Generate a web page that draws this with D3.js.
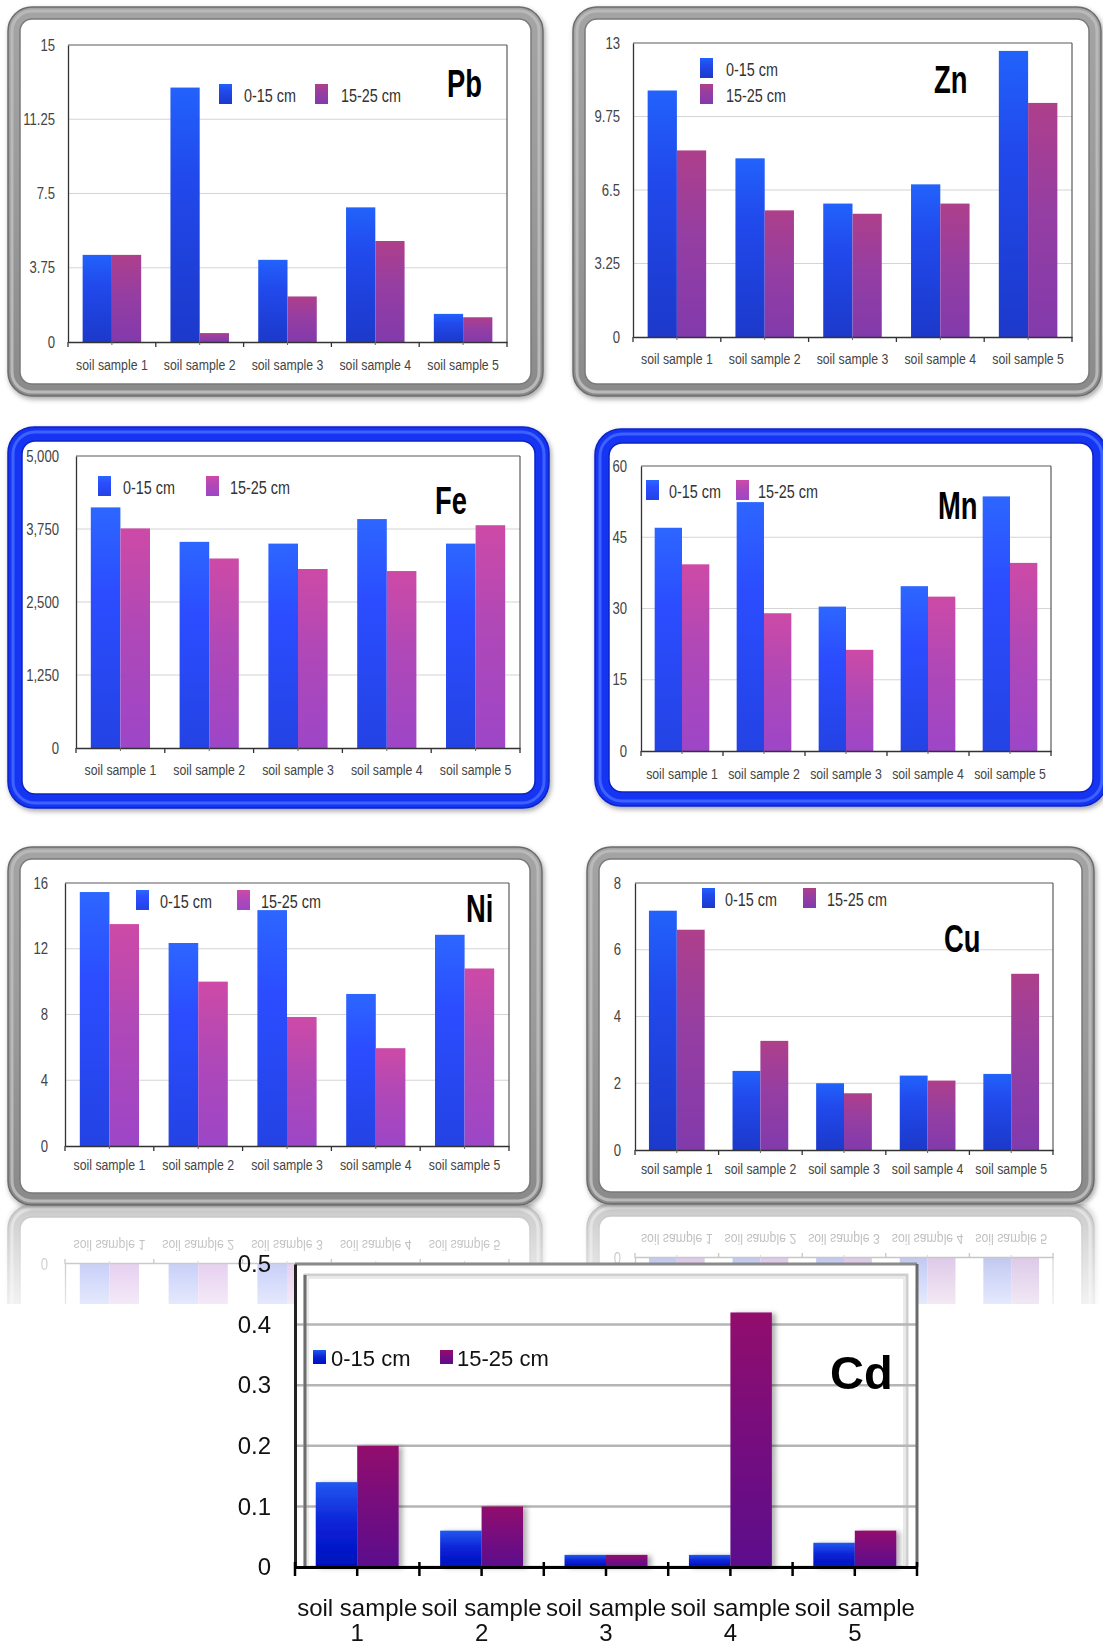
<!DOCTYPE html>
<html><head><meta charset="utf-8">
<script src="https://cdn.jsdelivr.net/npm/d3@7"></script>
<style>body{margin:0;background:#fff}svg{display:block}</style>
</head><body>
<svg id="c" width="1103" height="1648"></svg>
<script>
const categories = ["soil sample 1","soil sample 2","soil sample 3","soil sample 4","soil sample 5"];
const seriesNames = ["0-15 cm","15-25 cm"];

const pb0_15 = [4.4, 12.85, 4.15, 6.8, 1.42];
const pb15_25 = [4.4, 0.45, 2.3, 5.1, 1.25];
const pbTicks = [0, 3.75, 7.5, 11.25, 15];

const zn0_15 = [10.9, 7.9, 5.9, 6.75, 12.65];
const zn15_25 = [8.25, 5.6, 5.45, 5.9, 10.35];
const znTicks = [0, 3.25, 6.5, 9.75, 13];

const fe0_15 = [4120, 3530, 3500, 3920, 3500];
const fe15_25 = [3760, 3245, 3065, 3030, 3815];
const feTicks = [0, 1250, 2500, 3750, 5000];

const mn0_15 = [47, 52.4, 30.4, 34.7, 53.6];
const mn15_25 = [39.3, 29, 21.3, 32.5, 39.6];
const mnTicks = [0, 15, 30, 45, 60];

const ni0_15 = [15.45, 12.35, 14.35, 9.25, 12.85];
const ni15_25 = [13.5, 10.0, 7.85, 5.95, 10.8];
const niTicks = [0, 4, 8, 12, 16];

const cu0_15 = [7.17, 2.37, 2.0, 2.23, 2.28];
const cu15_25 = [6.6, 3.27, 1.7, 2.08, 5.28];
const cuTicks = [0, 2, 4, 6, 8];

const cd0_15 = [0.14, 0.06, 0.02, 0.02, 0.04];
const cd15_25 = [0.2, 0.1, 0.02, 0.42, 0.06];
const cdTicks = [0, 0.1, 0.2, 0.3, 0.4, 0.5];

const FONT = "'Liberation Sans', Arial, Helvetica, sans-serif";
const NARROW = 0.82;

const svg = d3.select("#c");
const defs = svg.append("defs");

function vgrad(id, stops) {
  const g = defs.append("linearGradient").attr("id", id).attr("x1",0).attr("y1",0).attr("x2",0).attr("y2",1);
  stops.forEach(s => g.append("stop").attr("offset", s[0]).attr("stop-color", s[1]));
}
vgrad("blueA", [[0,"#2262fb"],[0.35,"#2149ec"],[1,"#1c39ca"]]);
vgrad("magA", [[0,"#ae3f8b"],[0.45,"#963ea2"],[1,"#823aac"]]);
vgrad("blueB", [[0,"#2d66ff"],[0.35,"#2b4dff"],[1,"#2343e4"]]);
vgrad("magB", [[0,"#cd4aa6"],[0.45,"#b048b7"],[1,"#9d46c7"]]);
vgrad("blueCd", [[0,"#2258ef"],[0.5,"#0a22d6"],[1,"#0010bd"]]);
vgrad("magCd", [[0,"#920c6c"],[0.5,"#760c7f"],[1,"#5c0e8c"]]);
vgrad("grayFrame", [[0,"#a4a4a4"],[0.5,"#9a9a9a"],[1,"#8a8a8a"]]);

const fs = defs.append("filter").attr("id","frameShadow").attr("x","-5%").attr("y","-5%").attr("width","112%").attr("height","115%");
fs.append("feDropShadow").attr("dx",1.5).attr("dy",2.5).attr("stdDeviation",2.5).attr("flood-color","#000").attr("flood-opacity",0.35);
const bs = defs.append("filter").attr("id","barShadow").attr("x","-20%").attr("y","-10%").attr("width","150%").attr("height","120%");
bs.append("feDropShadow").attr("dx",4).attr("dy",1).attr("stdDeviation",2.5).attr("flood-color","#000").attr("flood-opacity",0.3);

// reflection mask
const rg = defs.append("linearGradient").attr("id","reflGrad").attr("gradientUnits","userSpaceOnUse")
  .attr("x1",0).attr("y1",1204).attr("x2",0).attr("y2",1304);
rg.append("stop").attr("offset",0).attr("stop-color","#fff").attr("stop-opacity",0.45);
rg.append("stop").attr("offset",1).attr("stop-color","#fff").attr("stop-opacity",0.12);
const mask = defs.append("mask").attr("id","reflMask").attr("maskUnits","userSpaceOnUse")
  .attr("x",0).attr("y",1204).attr("width",1103).attr("height",100);
mask.append("rect").attr("x",0).attr("y",1204).attr("width",1103).attr("height",100).attr("fill","url(#reflGrad)");

function narrowText(sel, f) {
  sel.each(function(){
    const t = d3.select(this);
    const x = +(t.attr("x") || 0);
    t.attr("x", x / f).attr("transform", `scale(${f},1)`);
  });
}

const panels = [
  {id:"pb", name:"Pb", a:pb0_15, b:pb15_25, ticks:pbTicks, fmt:d=>String(d), style:"gray",
   frame:[8,7,535,389], plot:[68,45,507,342], tickGap:13, labelDy:28, title:[447,97],
   legend:{type:"h", y:84, xs:[219,244,315,341]}, blue:"blueA", mag:"magA"},
  {id:"zn", name:"Zn", a:zn0_15, b:zn15_25, ticks:znTicks, fmt:d=>String(d), style:"gray",
   frame:[573,7,528,389], plot:[633,43,1072,337], tickGap:13, labelDy:27, title:[934,93],
   legend:{type:"v", ys:[58,84], xs:[700,726]}, blue:"blueA", mag:"magA"},
  {id:"fe", name:"Fe", a:fe0_15, b:fe15_25, ticks:feTicks, fmt:d3.format(","), style:"blue",
   frame:[8,427,541,381], plot:[76,456,520,748], tickGap:17, labelDy:27, title:[435,514],
   legend:{type:"h", y:476, xs:[98,123,206,230]}, blue:"blueB", mag:"magB"},
  {id:"mn", name:"Mn", a:mn0_15, b:mn15_25, ticks:mnTicks, fmt:d=>String(d), style:"blue",
   frame:[595,429,512,377], plot:[641,466,1051,751], tickGap:14, labelDy:28, title:[938,519],
   legend:{type:"h", y:480, xs:[646,669,736,758]}, blue:"blueB", mag:"magB"},
  {id:"ni", name:"Ni", a:ni0_15, b:ni15_25, ticks:niTicks, fmt:d=>String(d), style:"gray",
   frame:[8,847,534,358], plot:[65,883,509,1146], tickGap:17, labelDy:24, title:[466,922],
   legend:{type:"h", y:890, xs:[136,160,237,261]}, blue:"blueB", mag:"magB"},
  {id:"cu", name:"Cu", a:cu0_15, b:cu15_25, ticks:cuTicks, fmt:d=>String(d), style:"gray",
   frame:[587,847,507,357], plot:[635,883,1053,1150], tickGap:14, labelDy:24, title:[944,952],
   legend:{type:"h", y:888, xs:[702,725,803,827]}, blue:"blueA", mag:"magA"}
];

function drawPanel(p) {
  const g = svg.append("g").attr("id", p.id);
  const [fx,fy,fw,fh] = p.frame;
  if (p.style === "gray") {
    g.append("rect").attr("x",fx).attr("y",fy).attr("width",fw).attr("height",fh).attr("rx",24)
      .attr("fill","url(#grayFrame)").attr("stroke","#6c6c6c").attr("stroke-width",1.5).attr("filter","url(#frameShadow)");
    g.append("rect").attr("x",fx+4).attr("y",fy+4).attr("width",fw-8).attr("height",fh-8).attr("rx",20)
      .attr("fill","none").attr("stroke","#b9b9b9").attr("stroke-width",3);
    g.append("rect").attr("x",fx+12).attr("y",fy+12).attr("width",fw-24).attr("height",fh-24).attr("rx",12)
      .attr("fill","#fff").attr("stroke","#7a7a7a").attr("stroke-width",1.5);
  } else {
    g.append("rect").attr("x",fx).attr("y",fy).attr("width",fw).attr("height",fh).attr("rx",26)
      .attr("fill","#1436f3").attr("stroke","#0c24c8").attr("stroke-width",1.5).attr("filter","url(#frameShadow)");
    g.append("rect").attr("x",fx+5).attr("y",fy+5).attr("width",fw-10).attr("height",fh-10).attr("rx",22)
      .attr("fill","none").attr("stroke","#3d62ff").attr("stroke-width",3);
    g.append("rect").attr("x",fx+14).attr("y",fy+14).attr("width",fw-28).attr("height",fh-28).attr("rx",13)
      .attr("fill","#fff").attr("stroke","#0b23c6").attr("stroke-width",1.5);
  }
  const [L,T,R,B] = p.plot;
  const ymax = d3.max(p.ticks);
  const x = d3.scaleBand().domain(categories).range([L,R]).paddingInner(1/3).paddingOuter(1/6);
  const x1 = d3.scaleBand().domain(seriesNames).range([0, x.bandwidth()]);
  const y = d3.scaleLinear().domain([0, ymax]).range([B, T]);

  // gridlines
  g.append("g").selectAll("line").data(p.ticks.filter(t => t > 0 && t < ymax)).join("line")
    .attr("x1",L).attr("x2",R).attr("y1",d=>y(d)).attr("y2",d=>y(d))
    .attr("stroke","#d4d4d4").attr("stroke-width",1.2);
  // plot frame top/right
  g.append("line").attr("x1",L).attr("x2",R).attr("y1",y(ymax)).attr("y2",y(ymax)).attr("stroke","#5a5a5a").attr("stroke-width",1.2);
  g.append("line").attr("x1",R).attr("x2",R).attr("y1",y(ymax)).attr("y2",B).attr("stroke","#5a5a5a").attr("stroke-width",1.2);

  // bars
  const rows = categories.map((c,i) => ({c, vals:[p.a[i], p.b[i]]}));
  g.append("g").selectAll("g").data(rows).join("g")
    .attr("transform", d => `translate(${x(d.c)},0)`)
    .selectAll("rect").data(d => d.vals.map((v,k) => ({k, v}))).join("rect")
    .attr("x", d => x1(seriesNames[d.k])).attr("width", x1.bandwidth())
    .attr("y", d => y(d.v)).attr("height", d => y(0) - y(d.v))
    .attr("fill", d => d.k ? `url(#${p.mag})` : `url(#${p.blue})`);

  // y axis
  const ya = g.append("g").attr("transform", `translate(${L},0)`)
    .call(d3.axisLeft(y).tickValues(p.ticks).tickFormat(p.fmt).tickSize(0).tickPadding(p.tickGap));
  ya.select(".domain").attr("stroke","#333").attr("stroke-width",1.3);
  ya.selectAll("text").attr("font-family",FONT).attr("font-size",16).attr("fill","#444").call(narrowText, NARROW);

  // x axis
  const xa = g.append("g").attr("transform", `translate(0,${B})`)
    .call(d3.axisBottom(x).tickSize(0).tickPadding(0));
  xa.select(".domain").attr("stroke","#333").attr("stroke-width",1.6);
  xa.selectAll("text").attr("font-family",FONT).attr("font-size",15).attr("fill","#444")
    .attr("y", p.labelDy).attr("dy", null).call(narrowText, NARROW);
  const step = x.step();
  g.append("g").selectAll("line").data(d3.range(categories.length + 1)).join("line")
    .attr("x1", i => x.range()[0] + i*step).attr("x2", i => x.range()[0] + i*step)
    .attr("y1", B).attr("y2", B + 5).attr("stroke","#333").attr("stroke-width",1.3);
  g.append("g").selectAll("line").data(categories).join("line")
    .attr("x1", c => x(c) + x.bandwidth()/2).attr("x2", c => x(c) + x.bandwidth()/2)
    .attr("y1", B).attr("y2", B + 3).attr("stroke","#666").attr("stroke-width",1);

  // legend
  const lg = g.append("g");
  const sqW = 13, sqH = 20;
  let items;
  if (p.legend.type === "h") {
    items = seriesNames.map((s,k) => ({s, k, sx:p.legend.xs[k*2], tx:p.legend.xs[k*2+1], y:p.legend.y}));
  } else {
    items = seriesNames.map((s,k) => ({s, k, sx:p.legend.xs[0], tx:p.legend.xs[1], y:p.legend.ys[k]}));
  }
  lg.selectAll("rect").data(items).join("rect")
    .attr("x", d => d.sx).attr("y", d => d.y).attr("width", sqW).attr("height", sqH)
    .attr("fill", d => d.k ? `url(#${p.mag})` : `url(#${p.blue})`);
  lg.selectAll("text").data(items).join("text")
    .attr("x", d => d.tx).attr("y", d => d.y + sqH - 2)
    .attr("font-family",FONT).attr("font-size",18).attr("fill","#333")
    .text(d => d.s).call(narrowText, 0.8);

  // title
  g.append("text").attr("transform", `translate(${p.title[0]},${p.title[1]}) scale(0.72,1)`)
    .attr("font-family",FONT).attr("font-weight","bold").attr("font-size",38).attr("fill","#000")
    .text(p.name);
}

panels.forEach(drawPanel);

// reflection of bottom row panels
const refl = svg.append("g").attr("mask","url(#reflMask)");
refl.append("use").attr("href","#ni").attr("transform",`translate(0,${2*1205}) scale(1,-1)`);
refl.append("use").attr("href","#cu").attr("transform",`translate(0,${2*1204}) scale(1,-1)`);

// Cd chart
(function(){
  const g = svg.append("g").attr("id","cd");
  const L = 295, T = 1264, R = 917, B = 1567;
  const ymax = d3.max(cdTicks);
  const x = d3.scaleBand().domain(categories).range([L,R]).paddingInner(1/3).paddingOuter(1/6);
  const x1 = d3.scaleBand().domain(seriesNames).range([0, x.bandwidth()]);
  const y = d3.scaleLinear().domain([0, ymax]).range([B, T]);

  g.append("rect").attr("x",L).attr("y",T).attr("width",R-L).attr("height",B-T).attr("fill","#fff");
  // inner wall
  g.append("rect").attr("x",L+10).attr("y",T+11).attr("width",R-L-20).attr("height",B-T-11)
    .attr("fill","none").attr("stroke","#cfcfcf").attr("stroke-width",3);
  g.append("rect").attr("x",L+13).attr("y",T+14).attr("width",R-L-26).attr("height",B-T-14)
    .attr("fill","none").attr("stroke","#e4e4e4").attr("stroke-width",1.5);
  // gridlines
  g.append("g").selectAll("line").data(cdTicks.filter(t => t > 0 && t < ymax)).join("line")
    .attr("x1",L).attr("x2",R).attr("y1",d=>y(d)).attr("y2",d=>y(d))
    .attr("stroke","#b5b5b5").attr("stroke-width",2.5);
  g.append("line").attr("x1",L+10).attr("x2",L+10).attr("y1",T+11).attr("y2",B).attr("stroke","#6e6e6e").attr("stroke-width",3);
  // outer frame
  g.append("line").attr("x1",L).attr("x2",R).attr("y1",T).attr("y2",T).attr("stroke","#8a8a8a").attr("stroke-width",3);
  g.append("line").attr("x1",R).attr("x2",R).attr("y1",T).attr("y2",B).attr("stroke","#6a6a6a").attr("stroke-width",3);

  const rows = categories.map((c,i) => ({c, vals:[cd0_15[i], cd15_25[i]]}));
  g.append("g").attr("filter","url(#barShadow)").selectAll("g").data(rows).join("g")
    .attr("transform", d => `translate(${x(d.c)},0)`)
    .selectAll("rect").data(d => d.vals.map((v,k) => ({k, v}))).join("rect")
    .attr("x", d => x1(seriesNames[d.k])).attr("width", x1.bandwidth())
    .attr("y", d => y(d.v)).attr("height", d => y(0) - y(d.v))
    .attr("fill", d => d.k ? "url(#magCd)" : "url(#blueCd)");

  const ya = g.append("g").attr("transform", `translate(${L},0)`)
    .call(d3.axisLeft(y).tickValues(cdTicks).tickFormat(d => String(d)).tickSize(0).tickPadding(24));
  ya.select(".domain").attr("stroke","#222").attr("stroke-width",3);
  ya.selectAll("text").attr("font-family",FONT).attr("font-size",24).attr("fill","#111");

  const xa = g.append("g").attr("transform", `translate(0,${B})`)
    .call(d3.axisBottom(x).tickSize(0).tickPadding(0));
  xa.select(".domain").attr("stroke","#000").attr("stroke-width",3);
  xa.selectAll("text").remove();
  xa.selectAll(".tick").append("text")
    .attr("font-family",FONT).attr("font-size",24).attr("fill","#111").attr("text-anchor","middle")
    .attr("y", 49).text(d => d.replace(/ \d+$/, ""));
  xa.selectAll(".tick").append("text")
    .attr("font-family",FONT).attr("font-size",24).attr("fill","#111").attr("text-anchor","middle")
    .attr("y", 74).text(d => d.match(/\d+$/)[0]);
  const step = x.step();
  g.append("g").selectAll("line").data(d3.range(categories.length + 1)).join("line")
    .attr("x1", i => x.range()[0] + i*step).attr("x2", i => x.range()[0] + i*step)
    .attr("y1", B - 5).attr("y2", B + 9).attr("stroke","#000").attr("stroke-width",2.5);
  g.append("g").selectAll("line").data(categories).join("line")
    .attr("x1", c => x(c) + x.bandwidth()/2).attr("x2", c => x(c) + x.bandwidth()/2)
    .attr("y1", B).attr("y2", B + 9).attr("stroke","#000").attr("stroke-width",2.5);

  // legend
  const items = seriesNames.map((s,k) => ({s, k, sx:[313,440][k], tx:[331,457][k]}));
  g.selectAll("rect.leg").data(items).join("rect").attr("class","leg")
    .attr("x", d => d.sx).attr("y", 1350).attr("width", 13).attr("height", 14)
    .attr("fill", d => d.k ? "url(#magCd)" : "url(#blueCd)");
  g.selectAll("text.leg").data(items).join("text").attr("class","leg")
    .attr("x", d => d.tx).attr("y", 1366).attr("font-family",FONT).attr("font-size",22).attr("fill","#111")
    .text(d => d.s);
  g.append("text").attr("x",830).attr("y",1389).attr("font-family",FONT).attr("font-weight","bold")
    .attr("font-size",47).attr("fill","#000").text("Cd");
})();
</script>
</body></html>
